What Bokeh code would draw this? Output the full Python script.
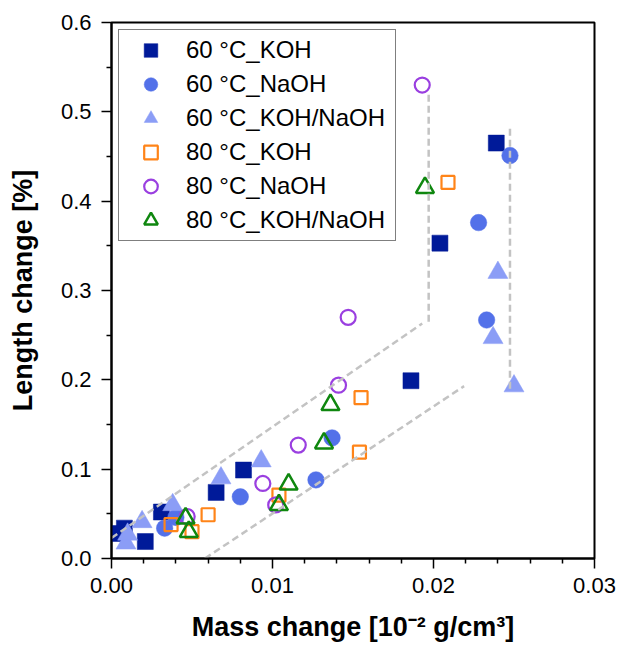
from bokeh.plotting import figure
from bokeh.models import Range1d, FixedTicker, PrintfTickFormatter, Legend, LegendItem
from bokeh.embed import file_html
from bokeh.resources import INLINE

# ---------------- data ----------------
SERIES_LABELS = ["60 °C_KOH", "60 °C_NaOH", "60 °C_KOH/NaOH",
                 "80 °C_KOH", "80 °C_NaOH", "80 °C_KOH/NaOH"]

K60_X = [0.0004, 0.0008, 0.0021, 0.0031, 0.0065, 0.0082, 0.0186, 0.0204, 0.0239]
K60_Y = [0.028, 0.034, 0.019, 0.052, 0.074, 0.099, 0.199, 0.353, 0.465]

NA60_X = [0.0033, 0.0040, 0.0080, 0.0127, 0.0137, 0.0228, 0.0233, 0.02475]
NA60_Y = [0.034, 0.046, 0.069, 0.088, 0.135, 0.376, 0.267, 0.451]

KN60_X = [0.0009, 0.0010, 0.0019, 0.0038, 0.0068, 0.0093, 0.0237, 0.0240, 0.0250]
KN60_Y = [0.017, 0.027, 0.041, 0.060, 0.090, 0.109, 0.247, 0.320, 0.193]

K80_X = [0.0037, 0.0050, 0.0060, 0.0104, 0.0154, 0.0155, 0.0209]
K80_Y = [0.038, 0.030, 0.049, 0.071, 0.119, 0.180, 0.421]

NA80_X = [0.0047, 0.0094, 0.0102, 0.0116, 0.0141, 0.0147, 0.0193]
NA80_Y = [0.047, 0.084, 0.060, 0.127, 0.194, 0.270, 0.530]

KN80_X = [0.0046, 0.0048, 0.0104, 0.0110, 0.0132, 0.0136, 0.01947]
KN80_Y = [0.045, 0.030, 0.060, 0.083, 0.129, 0.172, 0.415]

# dashed guide lines
UPPER_X = [0.0, 0.0193]
UPPER_Y = [0.023, 0.263]
UPPER_V_X = [0.0197, 0.0197]
UPPER_V_Y = [0.265, 0.520]
LOWER_X = [0.0058, 0.0219]
LOWER_Y = [0.0, 0.193]
RIGHT_V_X = [0.02475, 0.02475]
RIGHT_V_Y = [0.190, 0.482]

X_TICKS = [0.0, 0.01, 0.02, 0.03]
X_MINOR = [0.002, 0.004, 0.006, 0.008, 0.012, 0.014, 0.016, 0.018,
           0.022, 0.024, 0.026, 0.028]
Y_TICKS = [0.0, 0.1, 0.2, 0.3, 0.4, 0.5, 0.6]
Y_MINOR = [0.05, 0.15, 0.25, 0.35, 0.45, 0.55]

X_LABEL = "Mass change [10⁻² g/cm³]"
Y_LABEL = "Length change [%]"

FONT = "Liberation Sans"

# ---------------- figure ----------------
p = figure(width=620, height=646, output_backend="svg", toolbar_location=None,
           x_range=Range1d(0, 0.03), y_range=Range1d(0, 0.6),
           min_border_left=111, min_border_right=26,
           min_border_top=22, min_border_bottom=88,
           x_axis_label=X_LABEL, y_axis_label=Y_LABEL)
p.background_fill_color = "white"
p.border_fill_color = "white"
p.xgrid.visible = False
p.ygrid.visible = False
p.outline_line_color = "black"
p.outline_line_width = 2

p.xaxis.ticker = FixedTicker(ticks=X_TICKS, minor_ticks=X_MINOR)
p.yaxis.ticker = FixedTicker(ticks=Y_TICKS, minor_ticks=Y_MINOR)
p.xaxis.formatter = PrintfTickFormatter(format="%.2f")
p.yaxis.formatter = PrintfTickFormatter(format="%.1f")

for ax in (p.xaxis, p.yaxis):
    ax.major_label_text_font = FONT
    ax.major_label_text_font_size = "22px"
    ax.major_label_text_color = "black"
    ax.axis_label_text_font = FONT
    ax.axis_label_text_font_style = "bold"
    ax.axis_label_text_font_size = "27px"
    ax.axis_label_text_color = "black"
    ax.axis_line_color = "black"
    ax.axis_line_width = 2
    ax.major_tick_line_color = "black"
    ax.major_tick_line_width = 1.5
    ax.minor_tick_line_color = "black"
    ax.minor_tick_line_width = 1.5
    ax.major_tick_in = 0
    ax.major_tick_out = 10
    ax.minor_tick_in = 0
    ax.minor_tick_out = 5

p.xaxis.major_label_standoff = 9
p.xaxis.axis_label_standoff = 16
p.yaxis.major_label_standoff = 10
p.yaxis.axis_label_standoff = 20

# ---------------- markers ----------------
r1 = p.scatter(K60_X, K60_Y, marker="square", size=16,
               fill_color="#001a99", line_color="#001a99", line_width=0.5)
r2 = p.scatter(NA60_X, NA60_Y, marker="circle", size=16.5,
               fill_color="#5371e9", line_color="#5371e9", line_width=0.5)
r3 = p.scatter(KN60_X, KN60_Y, marker="triangle", size=20,
               fill_color="#8b9df6", line_color="#8b9df6", line_width=0.5)
r4 = p.scatter(K80_X, K80_Y, marker="square", size=13,
               fill_color="white", fill_alpha=0.0, line_color="#ff8418", line_width=2.2)
r5 = p.scatter(NA80_X, NA80_Y, marker="circle", size=15,
               fill_color="white", fill_alpha=0.0, line_color="#9a3fe0", line_width=2.2)
r6 = p.scatter(KN80_X, KN80_Y, marker="triangle", size=18,
               fill_color="white", fill_alpha=0.0, line_color="#0f870f", line_width=2.5)

# ---------------- guide lines ----------------
GUIDE = dict(line_color="#c3c3c3", line_width=2.5, line_dash="7 4")
p.line(UPPER_X, UPPER_Y, **GUIDE)
p.line(UPPER_V_X, UPPER_V_Y, **GUIDE)
p.line(LOWER_X, LOWER_Y, **GUIDE)
p.line(RIGHT_V_X, RIGHT_V_Y, **GUIDE)

# ---------------- legend ----------------
items = [LegendItem(label=lab, renderers=[r])
         for lab, r in zip(SERIES_LABELS, [r1, r2, r3, r4, r5, r6])]
legend = Legend(items=items, location="top_left", margin=7, padding=3,
                spacing=0, glyph_width=57, glyph_height=34,
                label_standoff=7, label_width=206,
                label_text_font=FONT, label_text_font_size="24px",
                label_text_color="black",
                border_line_color="black", border_line_width=1.2,
                background_fill_color="white", background_fill_alpha=1.0)
p.add_layout(legend)

open("out.html", "w").write(file_html(p, INLINE))
